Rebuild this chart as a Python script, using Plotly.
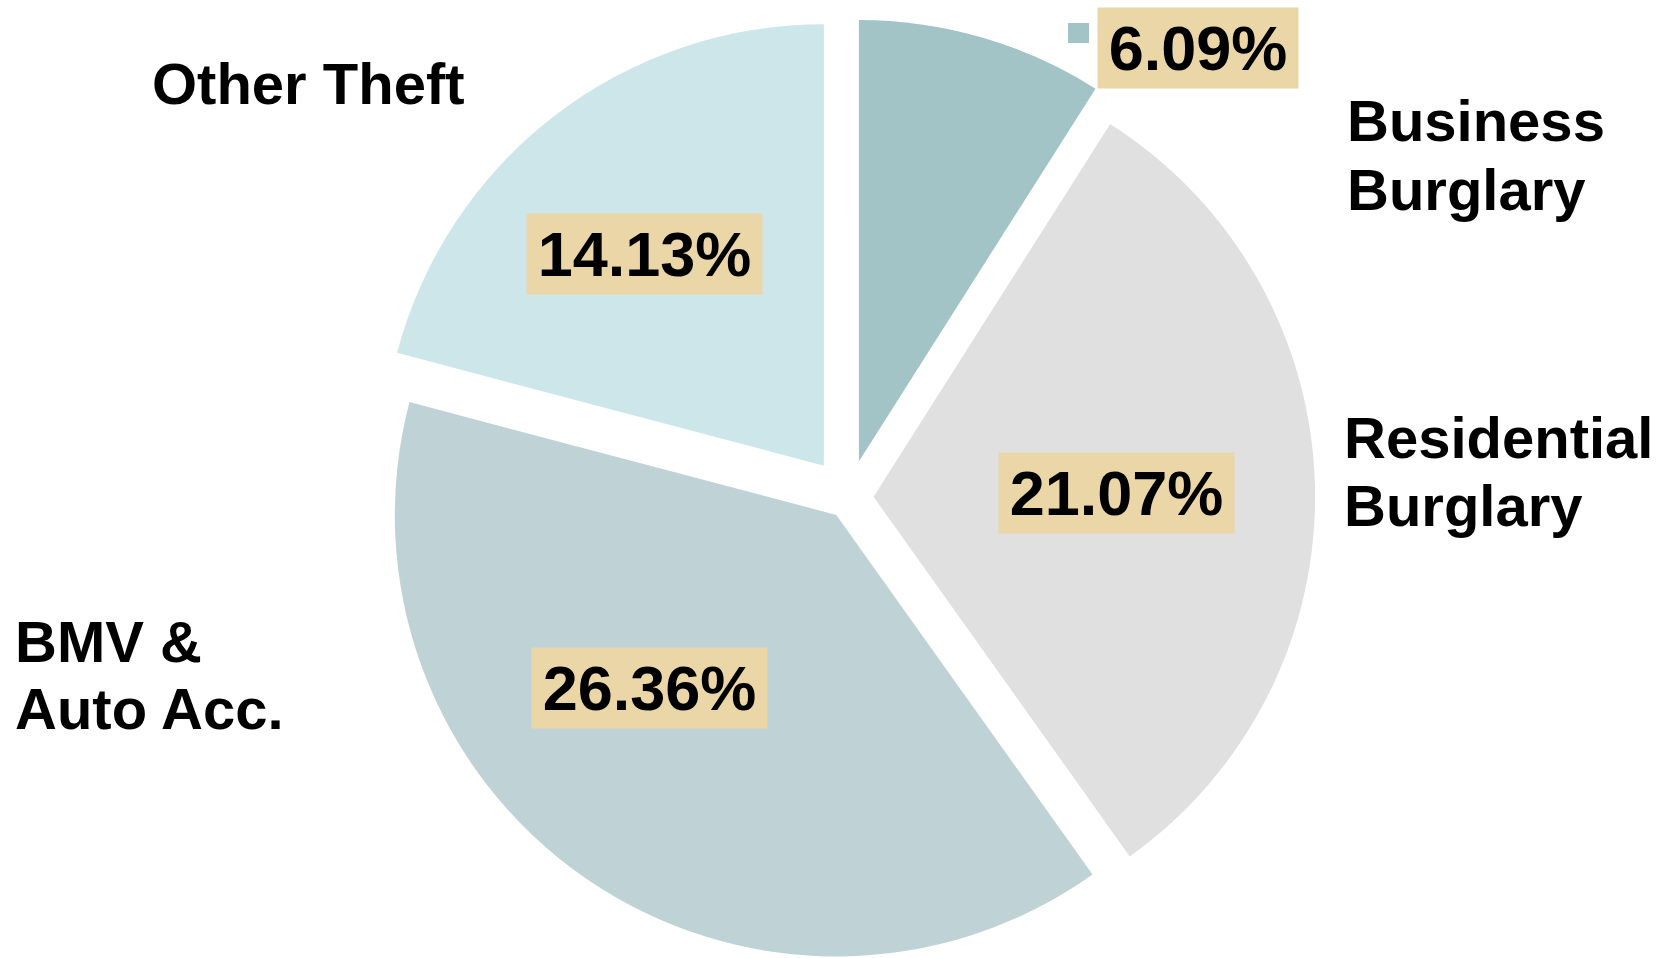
import plotly.graph_objects as go

# ---- data ----
categories = ["Business Burglary", "Residential Burglary", "BMV & Auto Acc.", "Other Theft"]
values = [6.09, 21.07, 26.36, 14.13]
value_labels = ["6.09%", "21.07%", "26.36%", "14.13%"]
colors = ["#A3C4C7", "#E0E0E0", "#BFD3D6", "#CDE6EA"]
pulls = [0.085, 0.057, 0.048, 0.091]

W, H = 1672, 984   # taller than the window: the pie bottom is cut off as in the source
FONT = "Liberation Sans, Arial, sans-serif"
TAN = "#EAD6A7"


def px(x):
    return x / W


def py(y):
    return 1 - y / H


fig = go.Figure()
fig.add_trace(go.Pie(
    labels=categories,
    values=values,
    sort=False,
    direction="clockwise",
    rotation=0,
    pull=pulls,
    marker=dict(colors=colors, line=dict(width=0)),
    textinfo="none",
    hoverinfo="label+value",
    showlegend=False,
    domain=dict(x=[px(366.7), px(1330.1)], y=[py(979.2), py(15.8)]),
))

# percentage labels (centre of tan box, box text width)
pct_pos = [(1198, 48, 190), (1116.5, 492.5, 225), (649, 687.5, 225), (644.5, 254, 225)]
for lab, (x, y, w) in zip(value_labels, pct_pos):
    fig.add_annotation(
        x=px(x), y=py(y), xref="paper", yref="paper",
        text=lab, showarrow=False, xanchor="center", yanchor="middle",
        font=dict(family=FONT, size=63, color="black", weight="bold"),
        bgcolor=TAN, borderpad=5, width=w, align="center",
    )

# category labels (one annotation per line)
cat_lines = [
    ("Other Theft", 151, 84),
    ("Business", 1346, 121),
    ("Burglary", 1346, 189),
    ("Residential", 1343, 437),
    ("Burglary", 1343, 505),
    ("BMV &", 14, 641),
    ("Auto Acc.", 14, 708),
]
for t, x, y in cat_lines:
    fig.add_annotation(
        x=px(x), y=py(y), xref="paper", yref="paper",
        text=t, showarrow=False, xanchor="left", yanchor="middle",
        font=dict(family=FONT, size=58, color="black", weight="bold"),
        borderpad=0,
    )

# legend key square beside the 6.09% label
fig.add_shape(type="rect", xref="paper", yref="paper",
              x0=px(1068), x1=px(1089), y0=py(43), y1=py(23),
              fillcolor=colors[0], line=dict(width=0))

fig.update_layout(
    width=W, height=H,
    margin=dict(l=0, r=0, t=0, b=0),
    paper_bgcolor="white",
    plot_bgcolor="white",
    showlegend=False,
)

fig.write_html("out.html", config={"displayModeBar": False},
               post_script="document.body.style.margin='0';document.body.style.overflow='hidden';")
